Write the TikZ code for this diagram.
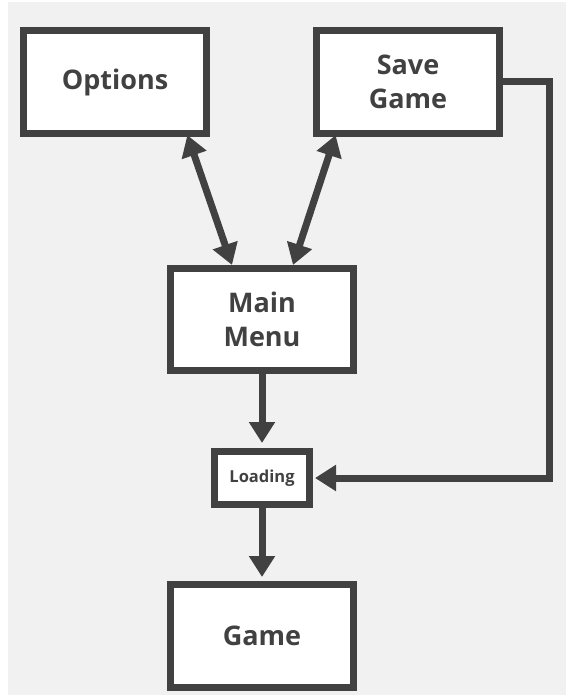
\documentclass[tikz,border=0pt]{standalone}
\usepackage{fontspec}
\setmainfont{Open Sans}
\usetikzlibrary{arrows.meta}
\definecolor{ink}{HTML}{414141}
\definecolor{bg}{HTML}{F1F1F1}
\begin{document}
\begin{tikzpicture}[x=1pt,y=-1pt,
  box/.style={draw=ink, line width=7pt, fill=white, rectangle, inner sep=0pt,
    minimum width=183pt, minimum height=103pt, align=center, text=ink,
    font=\bfseries\fontsize{27}{34}\selectfont},
  conn/.style={draw=ink, line width=7pt, -{Triangle[length=21pt,width=25pt]}},
  dconn/.style={draw=ink, line width=7pt, {Triangle[length=21pt,width=25pt]}-{Triangle[length=21pt,width=25pt]}}
]
\useasboundingbox (0,0) rectangle (566,695);
\fill[white] (0,0) rectangle (566,695);
\fill[bg] (8,2) rectangle (566,695);

\node[box] (opt) at (115,82) {Options};
\node[box] (sg) at (408,82) {Save\\Game};
\node[box, minimum height=102pt] (mm) at (262,319.5) {Main\\Menu};
\node[box, minimum width=95pt, minimum height=53pt,
      font=\bfseries\fontsize{16.5}{20}\selectfont] (ld) at (262,478) {Loading};
\node[box] (gm) at (262,636) {Game};

\draw[dconn, shorten <=-2pt] ([xshift=73pt]opt.south) -- ([xshift=-30pt]mm.north);
\draw[dconn, shorten >=-2pt] ([xshift=31pt]mm.north) -- ([xshift=-73pt]sg.south);
\draw[conn, shorten >=5pt] (mm.south) -- (ld.north);
\draw[conn, shorten >=4pt] (ld.south) -- (gm.north);
\draw[conn, shorten >=2pt, line join=miter] (sg.east) -- ++(46,0) |- (ld.east);
\end{tikzpicture}
\end{document}
